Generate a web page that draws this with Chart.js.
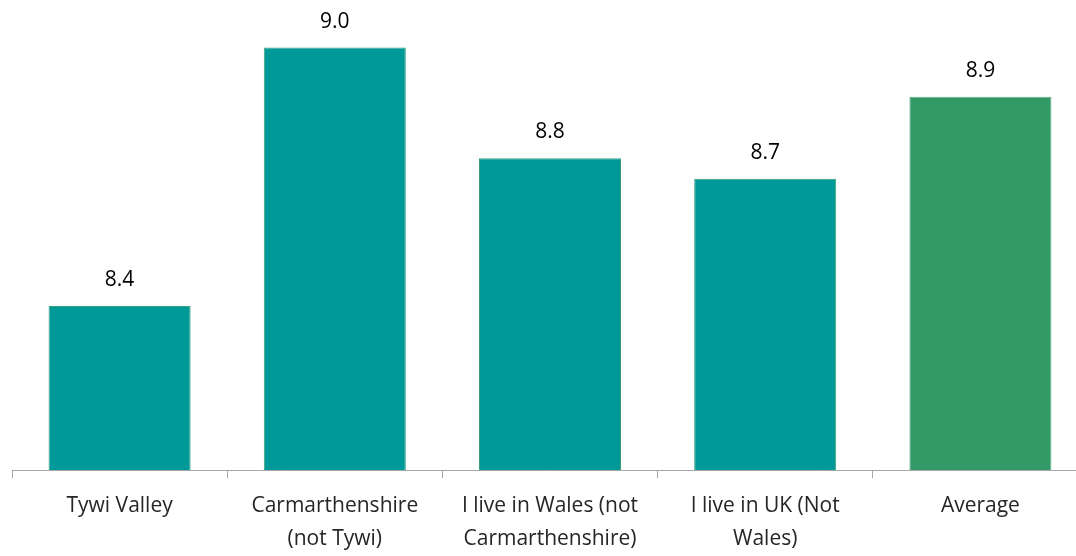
<!DOCTYPE html>
<html>
<head>
<meta charset="utf-8">
<script src="https://cdn.jsdelivr.net/npm/chart.js@4"></script>
<style>
  html, body { margin: 0; padding: 0; background: #fff; overflow: hidden; }
  #wrap { width: 1088px; height: 556px; }
</style>
</head>
<body>
<div id="wrap"><canvas id="satChart"></canvas></div>
<script>
// chart data
const categories = [
    ['Tywi Valley'],
    ['Carmarthenshire', '(not Tywi)'],
    ['I live in Wales (not', 'Carmarthenshire)'],
    ['I live in UK (Not', 'Wales)'],
    ['Average']
];
const scores = [8.40, 9.03, 8.76, 8.71, 8.91];
const barColors = ['#009999', '#009999', '#009999', '#009999', '#339966'];
const edgeColors = ['#3a9f78', '#3a9f78', '#3a9f78', '#3a9f78', '#5cb085'];

// draw value labels above bars
const valueLabels = {
    id: 'valueLabels',
    afterDatasetsDraw(chart) {
        const ctx = chart.ctx;
        const meta = chart.getDatasetMeta(0);
        ctx.save();
        ctx.font = '21px "Open Sans", sans-serif';
        ctx.fillStyle = '#000';
        ctx.textAlign = 'center';
        ctx.textBaseline = 'middle';
        meta.data.forEach((bar, i) => {
            ctx.fillText(scores[i].toFixed(1), bar.x, bar.y - 26);
        });
        ctx.restore();
    }
};

new Chart(document.getElementById('satChart'), {
    type: 'bar',
    data: {
        labels: categories,
        datasets: [{
            data: scores,
            backgroundColor: barColors,
            borderColor: edgeColors,
            borderWidth: 1,
            categoryPercentage: 1,
            barPercentage: 0.66
        }]
    },
    options: {
        responsive: true,
        maintainAspectRatio: false,
        animation: false,
        layout: { padding: { left: 12, right: 0, top: 0, bottom: 0 } },
        plugins: {
            legend: { display: false },
            tooltip: { enabled: false }
        },
        scales: {
            x: {
                afterFit: s => { s.height = 86; },
                grid: { drawOnChartArea: false, tickLength: 8, color: '#a6a6a6' },
                border: { color: '#a6a6a6', width: 1 },
                ticks: {
                    color: '#262626',
                    padding: 12,
                    maxRotation: 0,
                    font: { family: '"Open Sans", sans-serif', size: 21, lineHeight: 1.55 }
                }
            },
            y: {
                display: false,
                min: 8,
                max: 9.146
            }
        }
    },
    plugins: [valueLabels]
});
</script>
</body>
</html>
